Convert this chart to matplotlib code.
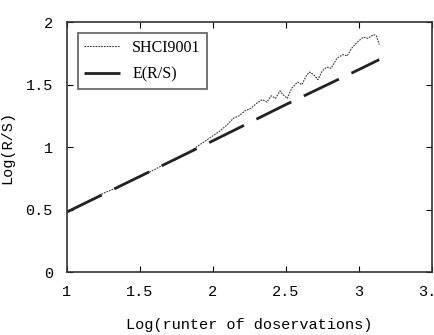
import matplotlib.pyplot as plt

shci_x = [1.00, 1.05, 1.10, 1.15, 1.20, 1.25, 1.30, 1.35, 1.40, 1.45, 1.50,
          1.55, 1.60, 1.65, 1.70, 1.75, 1.80, 1.85, 1.90, 1.95, 2.00, 2.05,
          2.10, 2.14, 2.18, 2.22, 2.26, 2.30, 2.34, 2.37, 2.40, 2.43, 2.46,
          2.48, 2.51, 2.54, 2.58, 2.61, 2.64, 2.66, 2.69, 2.72, 2.75, 2.78,
          2.81, 2.85, 2.89, 2.92, 2.95, 2.99, 3.03, 3.06, 3.10, 3.12, 3.14]
shci_y = [0.48, 0.51, 0.54, 0.57, 0.60, 0.63, 0.655, 0.68, 0.71, 0.735, 0.76,
          0.79, 0.82, 0.85, 0.88, 0.905, 0.94, 0.97, 1.01, 1.05, 1.09, 1.13,
          1.18, 1.23, 1.25, 1.29, 1.31, 1.35, 1.38, 1.36, 1.41, 1.39, 1.45,
          1.42, 1.39, 1.47, 1.52, 1.50, 1.57, 1.60, 1.58, 1.54, 1.61, 1.64,
          1.63, 1.71, 1.74, 1.73, 1.79, 1.84, 1.88, 1.87, 1.90, 1.89, 1.82]

# expected E(R/S)
e_x = [1.00, 1.50, 2.00, 2.50, 3.00, 3.14]
e_y = [0.48, 0.765, 1.05, 1.34, 1.62, 1.70]

xticks = [1, 1.5, 2, 2.5, 3, 3.5]
xtick_labels = ['1', '1.5', '2', '2.5', '3', '3.5']
yticks = [0, 0.5, 1, 1.5, 2]
ytick_labels = ['0', '0.5', '1', '1.5', '2']

plt.rcParams['font.family'] = ['Liberation Mono', 'DejaVu Sans Mono']

fig = plt.figure(figsize=(4.34, 3.35), dpi=100)
ax = fig.add_axes([0.154, 0.188, 0.841, 0.746])

ax.plot(shci_x, shci_y, color='#333333', lw=0.8, ls=(0, (1.5, 1)), label='SHCI9001')
ax.plot(e_x, e_y, color='#222222', lw=2.0, ls=(0, (14, 5)), label='E(R/S)')

ax.set_xlim(1, 3.5)
ax.set_ylim(0, 2)
ax.set_xticks(xticks)
ax.set_xticklabels(xtick_labels)
ax.set_yticks(yticks)
ax.set_yticklabels(ytick_labels)
ax.tick_params(direction='in', length=4, top=True, right=True, labelsize=11)
ax.tick_params(axis='x', pad=9)
ax.tick_params(axis='y', pad=10)
for s in ax.spines.values():
    s.set_linewidth(1.2)
    s.set_color('#333333')

ax.set_xlabel('Log(runter of doservations)', fontsize=11, labelpad=14)
ax.set_ylabel('Log(R/S)', fontsize=11, labelpad=8)

leg = ax.legend(loc='upper left', frameon=True, fancybox=False,
                edgecolor='#333333', handlelength=2.2, borderaxespad=0.7,
                labelspacing=0.7, prop={'family': 'Liberation Serif', 'size': 11.5})
leg.get_frame().set_linewidth(1.2)

fig.savefig('out.png', dpi=100)
